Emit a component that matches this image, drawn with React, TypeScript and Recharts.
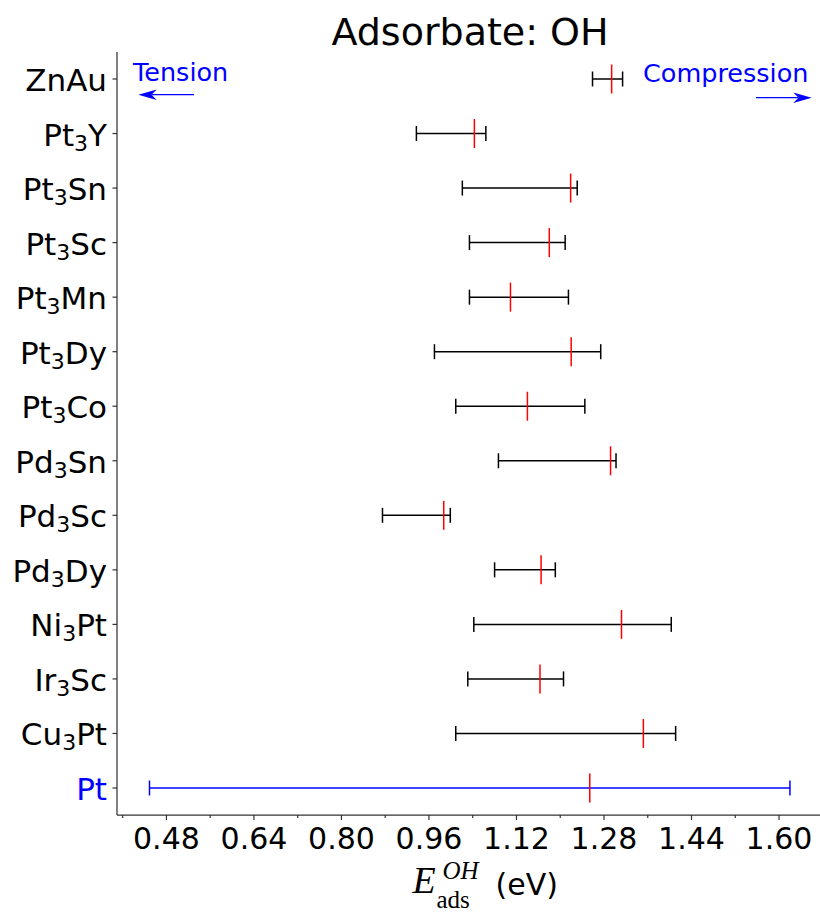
import React from 'react';
import { ComposedChart, Scatter, ErrorBar, XAxis, YAxis } from 'recharts';

// strained alloys (top to bottom), Pt reference last
const compounds = ['ZnAu', 'Pt3Y', 'Pt3Sn', 'Pt3Sc', 'Pt3Mn', 'Pt3Dy', 'Pt3Co', 'Pd3Sn', 'Pd3Sc', 'Pd3Dy', 'Ni3Pt', 'Ir3Sc', 'Cu3Pt', 'Pt'];
const lowValues = [1.259, 0.937, 1.021, 1.034, 1.034, 0.970, 1.009, 1.087, 0.875, 1.080, 1.042, 1.031, 1.009, 0.449];
const centerValues = [1.294, 1.043, 1.219, 1.180, 1.109, 1.220, 1.140, 1.292, 0.987, 1.165, 1.312, 1.163, 1.352, 1.254];
const highValues = [1.314, 1.064, 1.231, 1.209, 1.215, 1.274, 1.245, 1.302, 0.999, 1.191, 1.403, 1.206, 1.411, 1.620];

const majorTicks = [0.48, 0.64, 0.8, 0.96, 1.12, 1.28, 1.44, 1.6];
const minorTicks = [0.4, 0.56, 0.72, 0.88, 1.04, 1.2, 1.36, 1.52];
const xDomain = [0.3896, 1.6786];

const FONT = '"DejaVu Sans", sans-serif';
const SERIF = '"Liberation Serif", "DejaVu Serif", serif';

const rows = compounds.map((name, i) => ({
  name,
  center: centerValues[i],
  err: [centerValues[i] - lowValues[i], highValues[i] - centerValues[i]],
}));
const alloyRows = rows.filter((r) => r.name !== 'Pt');
const ptRows = rows.filter((r) => r.name === 'Pt');
const allTicks = [...minorTicks, ...majorTicks].sort((a, b) => a - b);

const CenterMark = (props: any) => {
  const { cx, cy } = props;
  if (cx == null || cy == null) return null;
  return <line x1={cx} x2={cx} y1={cy - 14.5} y2={cy + 14.5} stroke="#ff0000" strokeWidth={1.5} />;
};

const XTick = (props: any) => {
  const { x, y, payload } = props;
  const v = payload.value;
  const isMajor = majorTicks.some((t) => Math.abs(t - v) < 1e-9);
  return (
    <g>
      <line x1={x} x2={x} y1={y} y2={y + (isMajor ? 5 : 3)} stroke="#333" strokeWidth={1.2} />
      {isMajor && (
        <text x={x} y={y + 34} textAnchor="middle" fontSize={30} fontFamily={FONT} fill="#000">
          {v.toFixed(2)}
        </text>
      )}
    </g>
  );
};

const YTick = (props: any) => {
  const { x, y, payload } = props;
  const name: string = payload.value;
  const parts = name.match(/[A-Za-z]+|\d+/g) || [name];
  const color = name === 'Pt' ? '#0000ff' : '#000';
  return (
    <g>
      <line x1={x - 4.5} x2={x} y1={y} y2={y} stroke="#333" strokeWidth={1.2} />
      <text x={x - 10} y={y + 12} textAnchor="end" fontSize={31} fontFamily={FONT} fill={color}>
        {parts.map((p, i) =>
          /\d/.test(p) ? (
            <tspan key={i} fontSize={22} dy={5}>{p}</tspan>
          ) : (
            <tspan key={i} dy={i > 0 && /\d/.test(parts[i - 1]) ? -5 : 0}>{p}</tspan>
          )
        )}
      </text>
    </g>
  );
};

const XLabel = (props: any) => {
  const { viewBox } = props;
  const cx = viewBox.x + viewBox.width / 2;
  const top = viewBox.y;
  return (
    <g fill="#000">
      <text x={cx - 57} y={top + 78} fontSize={38} fontFamily={SERIF} fontStyle="italic">E</text>
      <text x={cx - 27} y={top + 64} fontSize={25} fontFamily={SERIF} fontStyle="italic">OH</text>
      <text x={cx - 33} y={top + 93} fontSize={25} fontFamily={SERIF}>ads</text>
      <text x={cx + 26} y={top + 80} fontSize={30} fontFamily={FONT}>(eV)</text>
    </g>
  );
};

export default function App() {
  return (
    <div style={{ position: 'absolute', left: 0, top: 0, width: 820, height: 914, overflow: 'hidden', background: '#fff' }}>
      <ComposedChart
        width={830}
        height={914}
        layout="vertical"
        margin={{ top: 52, right: 8, bottom: 0, left: 0 }}
      >
        <XAxis
          type="number"
          dataKey="center"
          domain={xDomain}
          allowDataOverflow
          ticks={allTicks}
          interval={0}
          tick={<XTick />}
          tickLine={false}
          tickSize={0}
          tickMargin={0}
          height={99}
          axisLine={{ stroke: '#333', strokeWidth: 1.25 }}
          label={<XLabel />}
        />
        <XAxis
          xAxisId="top"
          orientation="top"
          type="number"
          domain={xDomain}
          allowDataOverflow
          height={0}
          tick={false}
          tickLine={false}
          axisLine={{ stroke: '#333', strokeWidth: 1.25 }}
        />
        <YAxis
          type="category"
          dataKey="name"
          allowDuplicatedCategory={false}
          width={117}
          padding={{ top: 27, bottom: 27 }}
          interval={0}
          tick={<YTick />}
          tickLine={false}
          tickSize={0}
          tickMargin={0}
          axisLine={{ stroke: '#333', strokeWidth: 1.25 }}
        />
        <Scatter data={alloyRows} dataKey="center" shape={<CenterMark />} isAnimationActive={false}>
          <ErrorBar dataKey="err" direction="x" width={7.5} stroke="#000" strokeWidth={1.5} isAnimationActive={false} />
        </Scatter>
        <Scatter data={ptRows} dataKey="center" shape={<CenterMark />} isAnimationActive={false}>
          <ErrorBar dataKey="err" direction="x" width={7.5} stroke="#0000ff" strokeWidth={1.5} isAnimationActive={false} />
        </Scatter>
      </ComposedChart>
      <svg width={820} height={914} style={{ position: 'absolute', left: 0, top: 0, pointerEvents: 'none' }}>
        <text x={470} y={45} textAnchor="middle" fontSize={38} fontFamily={FONT} fill="#000">Adsorbate: OH</text>
        <text x={133} y={81} fontSize={25.5} fontFamily={FONT} fill="#0000ff">Tension</text>
        <line x1={194} x2={152} y1={94.7} y2={94.7} stroke="#0000ff" strokeWidth={1.3} />
        <path d="M138.3,94.7 L156.7,89.4 L151.5,94.7 L156.7,100 Z" fill="#0000ff" />
        <text x={643} y={81.7} fontSize={25.5} fontFamily={FONT} fill="#0000ff">Compression</text>
        <line x1={756} x2={798} y1={97.7} y2={97.7} stroke="#0000ff" strokeWidth={1.3} />
        <path d="M811.7,97.7 L793.3,92.4 L798.5,97.7 L793.3,103 Z" fill="#0000ff" />
      </svg>
    </div>
  );
}
